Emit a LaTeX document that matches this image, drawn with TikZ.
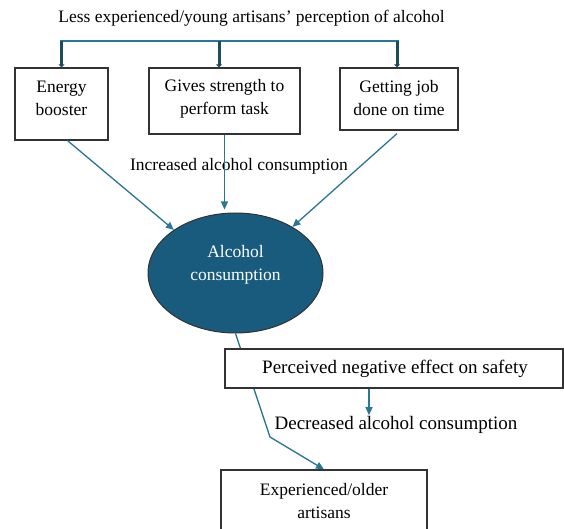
\documentclass[tikz,border=0pt]{standalone}
\usepackage{fontspec}
\setmainfont{Liberation Serif}
\usetikzlibrary{arrows.meta,calc,shapes.geometric}
\definecolor{ellfill}{HTML}{185B7C}
\definecolor{arrowc}{HTML}{2B7694}
\definecolor{stubc}{HTML}{1E4D60}
\definecolor{boxc}{HTML}{333333}
\begin{document}
\begin{tikzpicture}[x=1pt,y=-1pt,
  txt/.style={font=\fontsize{17.5}{23}\selectfont, align=center, inner sep=0pt},
  bigtxt/.style={font=\fontsize{19}{23}\selectfont, align=center, inner sep=0pt},
  box/.style={draw=boxc, line width=1.2pt, fill=white, inner sep=0pt},
  conn/.style={draw=arrowc, line width=1.3pt, -{Triangle[length=8pt,width=7pt]}},
  stub/.style={draw=stubc, line width=3pt, -{Triangle[length=3pt,width=6pt]}}]
\clip (0,0) rectangle (564,529);
\fill[white] (0,0) rectangle (564,529);
% title
\node[txt] (title) at (251.5,18) {Less experienced/young artisans’ perception of alcohol};
% top boxes
\node[box, minimum width=93pt, minimum height=72pt] (energy) at (61.5,104) {};
\node[txt] (energyT) at (61.5,98.5) {Energy\\booster};
\node[box, minimum width=151pt, minimum height=66pt] (gives) at (224.5,101) {};
\node[txt] (givesT) at (224.5,98.5) {Gives strength to\\perform task};
\node[box, minimum width=118pt, minimum height=62pt] (job) at (399,99) {};
\node[txt] (jobT) at (399,98.5) {Getting job\\done on time};
% bar
\coordinate (barL) at (60,41);
\coordinate (barR) at (399,41);
\draw[draw=arrowc, line width=1.2pt] (barL) -- (barR);
\draw[stub] ($(energy.north |- barL)+(0,0)$) -- (energy.north);
\draw[stub] ($(gives.north |- barL)+(-5.5,0)$) -- ($(gives.north)+(-5.5,0)$);
\draw[stub] ($(job.north |- barL)+(-2,0)$) -- ($(job.north)+(-2,0)$);
% ellipse
\node[ellipse, draw=boxc, line width=1pt, fill=ellfill, minimum width=175pt, minimum height=120pt, inner sep=0pt] (ell) at (235.5,273) {};
\node[txt, text=white] (ellT) at (235.5,265) {Alcohol\\consumption};
% increased label
\node[txt] (inc) at (239,166) {Increased alcohol consumption};
% arrows to ellipse
\draw[conn] ($(energy.south)+(6,0)$) -- (ell.145);
\draw[conn] (gives.south) -- ($(gives.south |- ell.north)+(0,-3)$);
\draw[conn] ($(job.south)+(-2,3)$) -- (ell.39);
% line to experienced
\node[box, minimum width=206pt, minimum height=62pt] (exp) at (324,501) {};
\coordinate (bend) at (270,437);
\draw[conn] (ell.south) -- (bend) -- (exp.north);
\node[txt] (expT) at (324,501) {Experienced/older\\artisans};
% perceived box
\node[box, minimum width=338pt, minimum height=39pt] (perc) at (394,368.5) {};
\node[bigtxt] (percT) at (395,368.5) {Perceived negative effect on safety};
\node[bigtxt] (dec) at (396,425) {Decreased alcohol consumption};
\draw[conn] ($(perc.south)+(-25,0)$) -- ($(perc.south |- dec.north)+(-25,-1)$);
\end{tikzpicture}
\end{document}
